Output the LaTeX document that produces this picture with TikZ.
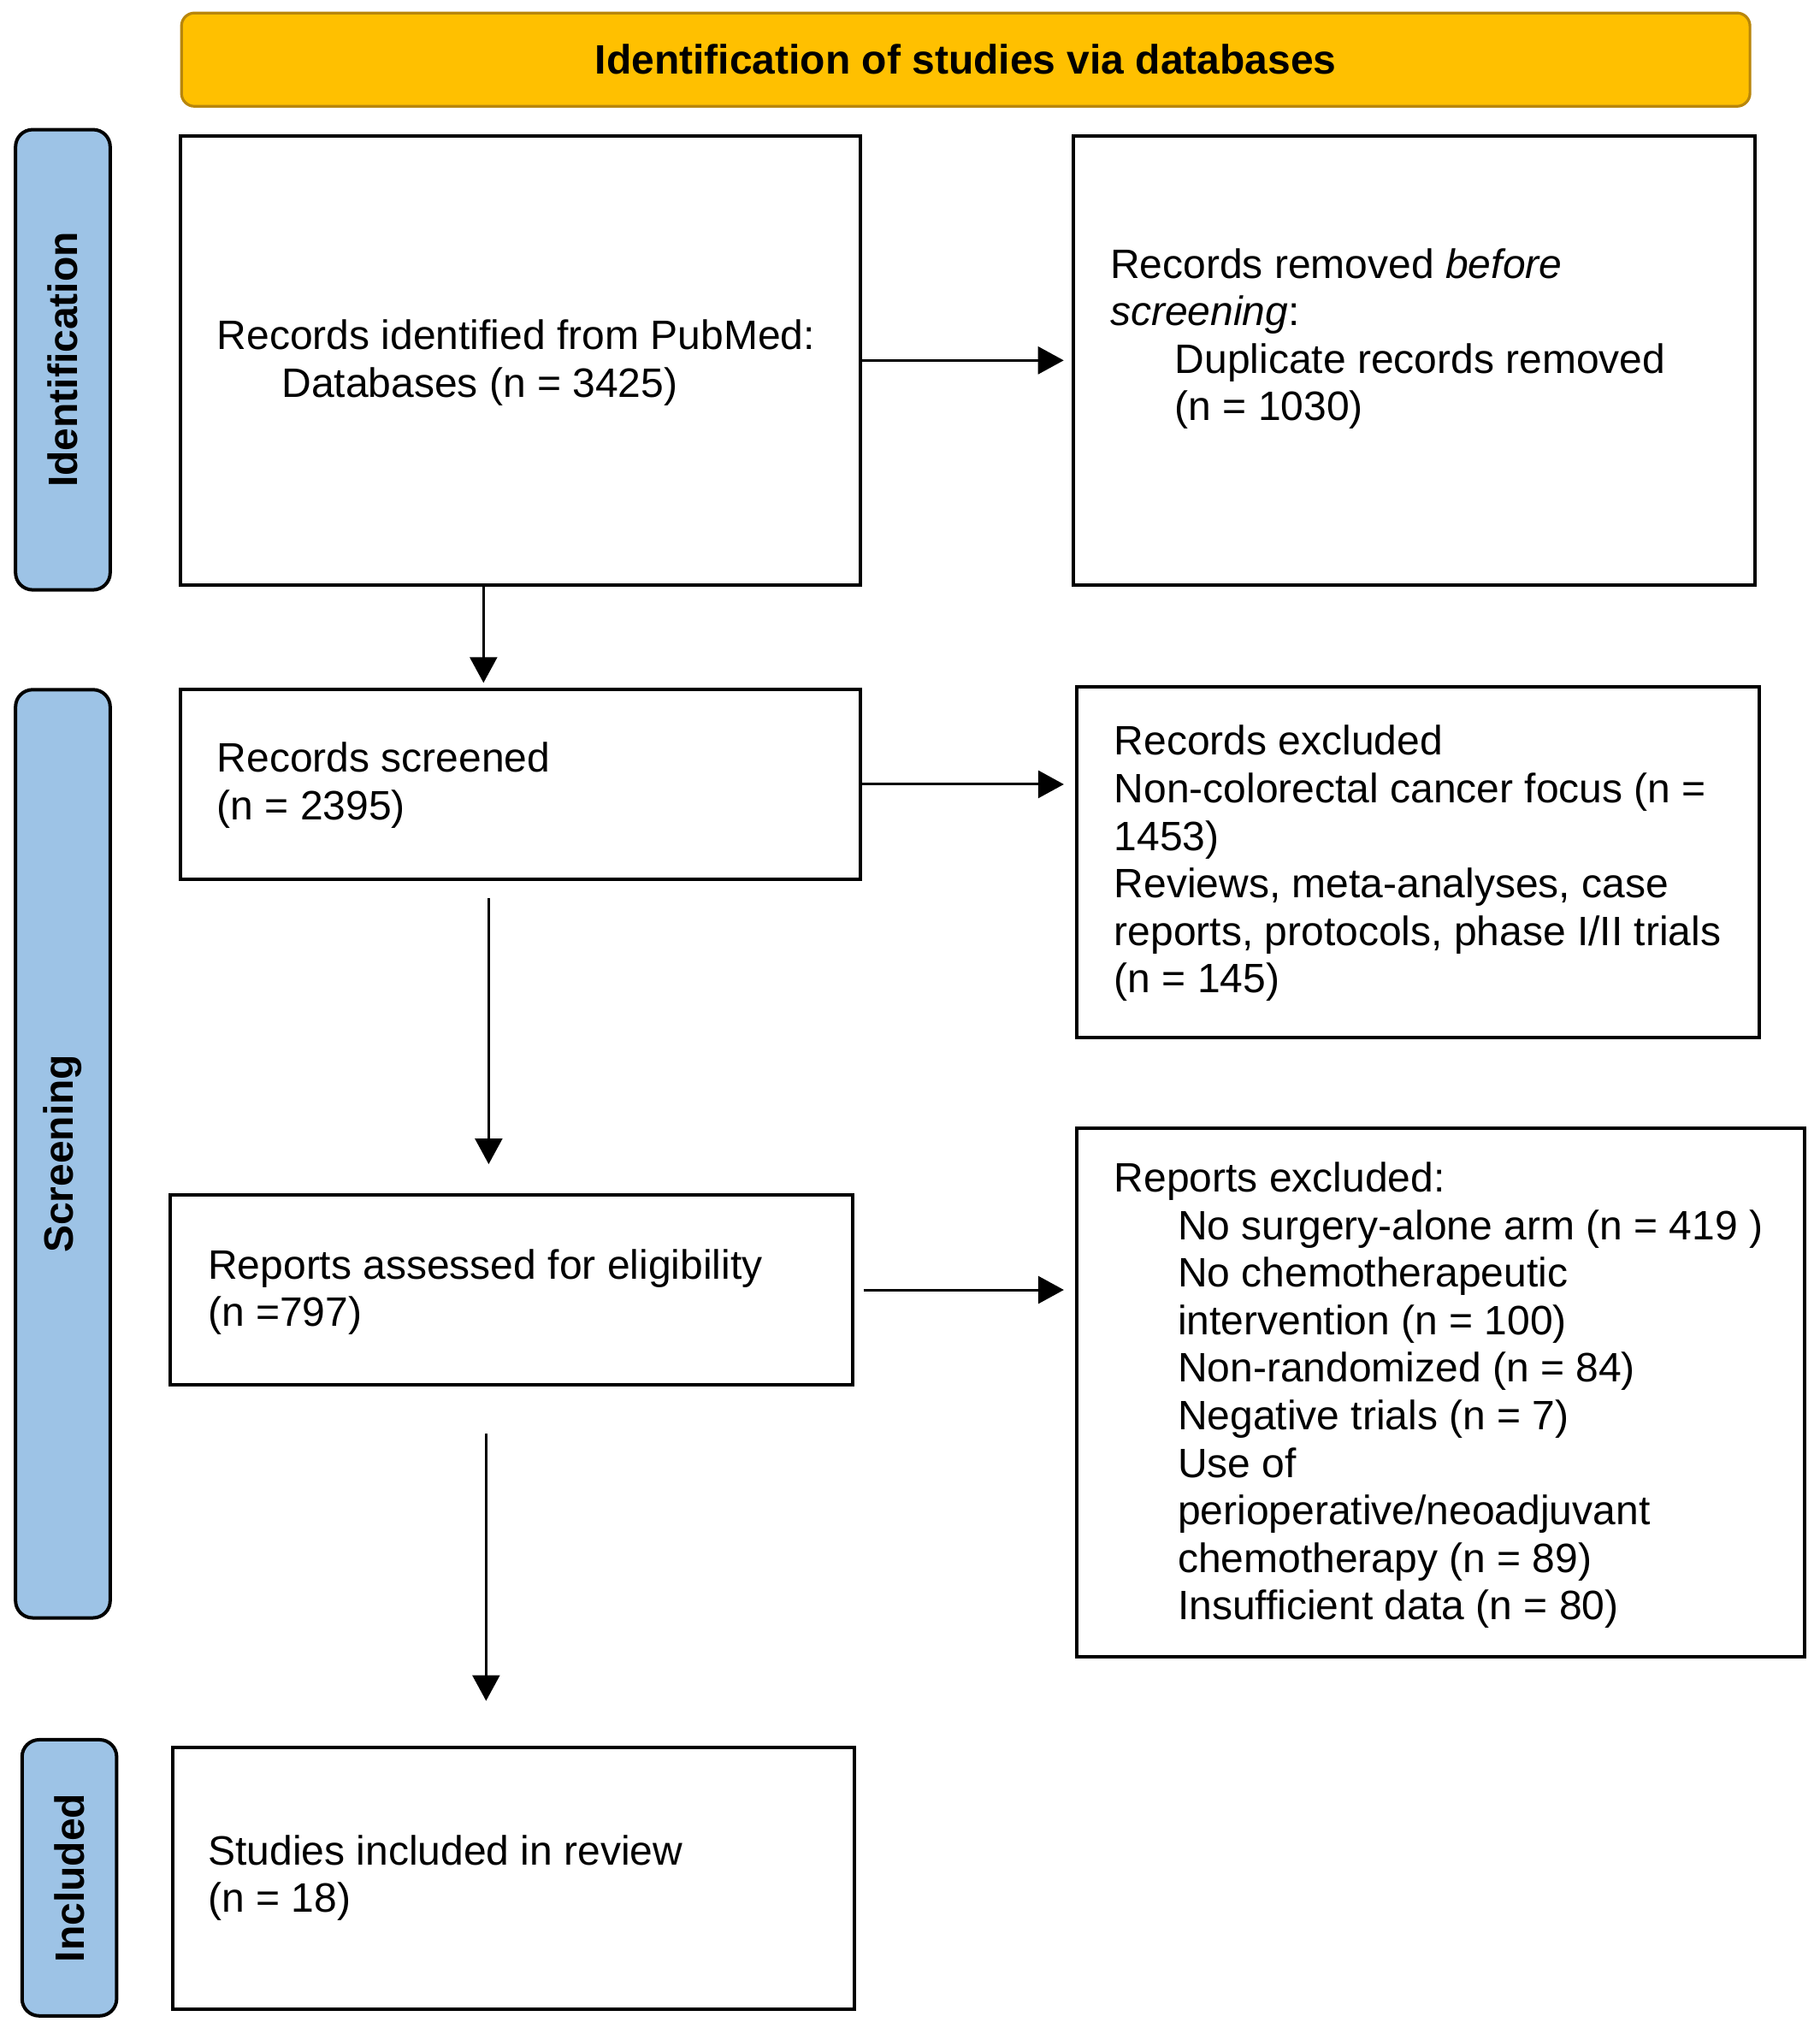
\documentclass[tikz,border=0pt]{standalone}
\usepackage{fontspec}
\setmainfont{Liberation Sans}
\usetikzlibrary{fit,arrows.meta}
\definecolor{hdrfill}{HTML}{FFC000}
\definecolor{hdrline}{HTML}{B8860B}
\definecolor{sidefill}{HTML}{9DC3E6}
\begin{document}
\begin{tikzpicture}[x=0.37894pt,y=-0.37894pt,
  box/.style={draw=black,line width=1pt,fill=white,inner sep=0pt},
  hdr/.style={draw=hdrline,line width=0.8pt,fill=hdrfill,rounded corners=3.8pt,inner sep=0pt},
  side/.style={draw=black,line width=1pt,fill=sidefill,rounded corners=5pt,inner sep=0pt},
  txt/.style={anchor=north west,inner sep=0pt,align=left,font=\fontsize{12pt}{13.9pt}\selectfont},
  sidetxt/.style={rotate=90,inner sep=0pt,font=\fontsize{12pt}{13.9pt}\selectfont\bfseries},
  harr/.style={line width=0.75pt,-{Triangle[length=7.5pt,width=8pt]}},
  varr/.style={line width=0.6pt,-{Triangle[length=7.5pt,width=8pt]}}]
\useasboundingbox (0,0) rectangle (1404,1569);
% header
\node[hdr,fit={(140,10) (1350,82)}] (hdr) {};
\node[inner sep=0pt,font=\fontsize{12pt}{13.9pt}\selectfont\bfseries] (hdrt) at (hdr.center) {Identification of studies via databases};
% side labels
\node[side,fit={(12,100) (85,455)}] (sid) {};
\node[sidetxt] (sidt) at (sid.center) {Identification};
\node[side,fit={(12,532) (85,1248)}] (sscr) {};
\node[sidetxt] (sscrt) at (sscr.center) {Screening};
\node[side,fit={(17,1342) (90,1555)}] (sinc) {};
\node[sidetxt] (sinct) at (sinc.center) {Included};
% boxes
\node[box,fit={(139,105) (664,451)}] (b1) {};
\node[box,fit={(828,105) (1354,451)}] (b2) {};
\node[box,fit={(139,532) (664,678)}] (b3) {};
\node[box,fit={(831,530) (1357,800)}] (b4) {};
\node[box,fit={(131,922) (658,1068)}] (b5) {};
\node[box,fit={(831,870) (1392,1278)}] (b6) {};
\node[box,fit={(133,1348) (659,1550)}] (b7) {};
% texts
\node[txt] (t1) at (167,246) {Records identified from PubMed:\\\hspace{18.9pt}Databases (n = 3425)};
\node[txt] (t2) at (856,191) {Records removed \textit{before}\\\textit{screening}:\\\hspace{18.9pt}Duplicate records removed\\\hspace{18.9pt}(n = 1030)};
\node[txt] (t3) at (167,572) {Records screened\\(n = 2395)};
\node[txt] (t4) at (859,559) {Records excluded\\Non-colorectal cancer focus (n =\\1453)\\Reviews, meta-analyses, case\\reports, protocols, phase I/II trials\\(n = 145)};
\node[txt] (t5) at (160,963) {Reports assessed for eligibility\\(n =797)};
\node[txt] (t6) at (859,896) {Reports excluded:\\
\hspace{18.6pt}No surgery-alone arm (n = 419 )\\
\hspace{18.6pt}No chemotherapeutic\\
\hspace{18.6pt}intervention (n = 100)\\
\hspace{18.6pt}Non-randomized (n = 84)\\
\hspace{18.6pt}Negative trials (n = 7)\\
\hspace{18.6pt}Use of\\
\hspace{18.6pt}perioperative/neoadjuvant\\
\hspace{18.6pt}chemotherapy (n = 89)\\
\hspace{18.6pt}Insufficient data (n = 80)};
\node[txt] (t7) at (160,1415) {Studies included in review\\(n = 18)};
% arrows
\draw[harr,shorten >=2.3pt] (b1.east) -- (b2.west);
\draw[harr,shorten >=3.4pt] (b3.east) -- (b3.east -| b4.west);
\draw[harr,shorten <=2.6pt,shorten >=3.4pt] (b5.east) -- (b5.east -| b6.west);
\coordinate (a1) at (373,0);
\draw[varr,shorten >=1.5pt] (b1.south -| a1) -- (b3.north -| a1);
\coordinate (a2s) at (377,693);
\coordinate (a2e) at (377,898);
\draw[varr] (a2s) -- (a2e);
\coordinate (a3s) at (375,1106);
\coordinate (a3e) at (375,1312);
\draw[varr] (a3s) -- (a3e);
\end{tikzpicture}
\end{document}
